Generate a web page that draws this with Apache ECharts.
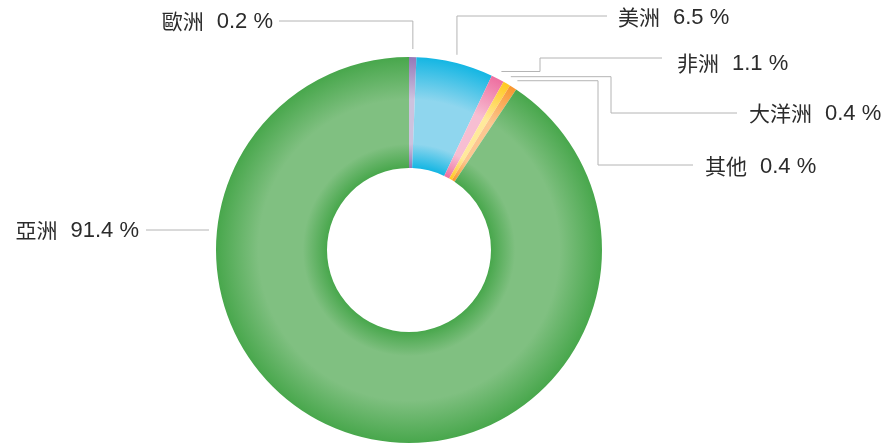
<!DOCTYPE html>
<html>
<head>
<meta charset="utf-8">
<script src="https://cdn.jsdelivr.net/npm/echarts@6/dist/echarts.min.js"></script>
<style>
html, body { margin: 0; padding: 0; background: #fff; }
#chart { width: 892px; height: 447px; }
</style>
</head>
<body>
<div id="chart"></div>
<script>
// data
var names = ['歐洲', '美洲', '非洲', '大洋洲', '其他', '亞洲'];
var values = [0.2, 6.5, 1.1, 0.4, 0.4, 91.4];

// ring colours: edge / middle of the ring
var edgeColors = ['#9478b8', '#14b6e3', '#ee6fa0', '#ffc820', '#f8962e', '#48a74c'];
var midColors  = ['#cdc2de', '#8fd6ee', '#f7bed2', '#ffe99b', '#fcc791', '#80c081'];

var CX = 409, CY = 250, R0 = 82, R1 = 193;

// where each label and its leader line go
var spots = [
    {kind: 'up',   lineY: 21,  endX: 279, textX: 273, textY: 21,  align: 'right'},
    {kind: 'up',   lineY: 16,  endX: 607, textX: 618, textY: 17,  align: 'left'},
    {kind: 'step', elbowX: 540, lineY: 58,  endX: 662, textX: 677, textY: 63,  align: 'left'},
    {kind: 'step', elbowX: 611, lineY: 113, endX: 737, textX: 749, textY: 113, align: 'left'},
    {kind: 'step', elbowX: 598, lineY: 165, endX: 693, textX: 705, textY: 166, align: 'left'},
    {kind: 'flat', lineY: 230, endX: 146, textX: 139, textY: 230, align: 'right'}
];

var chart = echarts.init(document.getElementById('chart'));

function ringColor(i){
    var inner = R0 / R1;
    return {
        type: 'radial', x: CX, y: CY, r: R1, global: true,
        colorStops: [
            {offset: 0, color: edgeColors[i]},
            {offset: inner, color: edgeColors[i]},
            {offset: 0.55, color: midColors[i]},
            {offset: 0.78, color: midColors[i]},
            {offset: 1, color: edgeColors[i]}
        ]
    };
}

var seriesData = [];
for (var k = 0; k < names.length; k++) {
    seriesData.push({name: names[k], value: values[k], itemStyle: {color: ringColor(k)}});
}

function layoutLabel(params){
    var i = params.dataIndex;
    var s = spots[i];
    var lay = chart.getModel().getSeriesByIndex(0).getData().getItemLayout(i);
    var R = lay.r + 8;
    var mid = (lay.startAngle + lay.endAngle) / 2;
    var p = [lay.cx + R * Math.cos(mid), lay.cy + R * Math.sin(mid)];
    var pts;
    if (s.kind === 'up') {
        pts = [p, [p[0], s.lineY], [s.endX, s.lineY]];
    } else if (s.kind === 'step') {
        pts = [p, [s.elbowX, p[1]], [s.elbowX, s.lineY], [s.endX, s.lineY]];
    } else {
        var dy = s.lineY - lay.cy;
        var sx = lay.cx - Math.sqrt(R * R - dy * dy);
        pts = [[sx, s.lineY], [s.endX, s.lineY]];
    }
    return {
        x: s.textX,
        y: s.textY,
        align: s.align,
        verticalAlign: 'middle',
        labelLinePoints: pts
    };
}

chart.setOption({
    backgroundColor: '#fff',
    animation: false,
    series: [{
        type: 'pie',
        center: [CX, CY],
        radius: [R0, R1],
        startAngle: 90,
        clockwise: true,
        minAngle: 2.2,
        avoidLabelOverlap: false,
        silent: true,
        label: {
            show: true,
            position: 'outside',
            formatter: function(p){ return '{n|' + p.name + '}{v|' + p.value + ' %}'; },
            color: '#2b2b2b',
            rich: {
                n: {fontSize: 21, lineHeight: 26, verticalAlign: 'middle', fontFamily: '"Noto Sans CJK TC"', color: '#2b2b2b'},
                v: {fontSize: 22, lineHeight: 26, verticalAlign: 'middle', fontFamily: '"Liberation Sans"', color: '#2b2b2b', padding: [2, 0, 0, 13]}
            }
        },
        labelLine: {
            show: true,
            lineStyle: {color: '#b4b4b4', width: 1}
        },
        labelLayout: layoutLabel,
        data: seriesData
    }]
});
</script>
</body>
</html>
